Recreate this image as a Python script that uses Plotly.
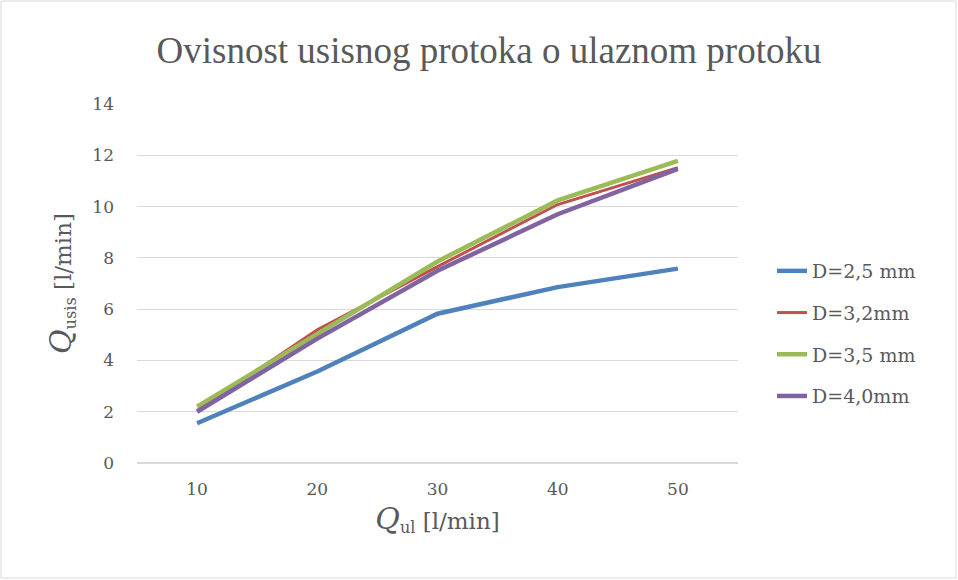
import plotly.graph_objects as go

categories = ["10", "20", "30", "40", "50"]
d25 = [1.55, 3.57, 5.82, 6.86, 7.58]
d32 = [2.05, 5.19, 7.66, 10.08, 11.52]
d35 = [2.2, 5.05, 7.86, 10.24, 11.78]
d40 = [2.0, 4.85, 7.5, 9.7, 11.47]
series_names = ["D=2,5 mm", "D=3,2mm", "D=3,5 mm", "D=4,0mm"]
colors = ["#4F81BD", "#C0504D", "#9BBB59", "#8064A2"]
widths = [4.5, 3, 4.5, 4.5]

W, H = 958, 580
L, R, T, B = 137, 220, 104, 117
pw, ph = W - L - R, H - T - B
TXT = "#595959"

fig = go.Figure()
for i, (name, vals) in enumerate(zip(series_names, [d25, d32, d35, d40])):
    fig.add_trace(go.Scatter(
        x=categories, y=vals, name=name, mode="lines",
        line=dict(color=colors[i], width=widths[i]),
        legendgroup=f"g{i}",
    ))

# outer chart border
fig.add_shape(type="rect", xref="paper", yref="paper",
              x0=(1 - L) / pw, x1=(W - 2 - L) / pw,
              y0=-(B - 2) / ph, y1=1 + (T - 1) / ph,
              line=dict(color="#D9D9D9", width=1), layer="below")

fig.update_layout(
    width=W, height=H,
    margin=dict(l=L, r=R, t=T, b=B),
    paper_bgcolor="white", plot_bgcolor="white",
    title=dict(text="Ovisnost usisnog protoka o ulaznom protoku",
               x=489 / W, xref="container", xanchor="center",
               y=1 - 50 / H, yref="container", yanchor="middle",
               font=dict(family="Liberation Serif", size=37, color=TXT)),
    font=dict(family="DejaVu Serif", color=TXT),
    xaxis=dict(type="category", range=[-0.5, 4.5], showgrid=False,
               showline=False, zeroline=False, ticks="", ticklabelstandoff=14,
               tickfont=dict(family="DejaVu Serif", size=17, color=TXT),
               title=dict(text="<i><span style='font-size:30px'>Q</span></i><sub>ul</sub> [l/min]",
                          standoff=14,
                          font=dict(family="DejaVu Serif", size=23, color=TXT))),
    yaxis=dict(range=[0, 14], dtick=2, showgrid=True, gridcolor="#D9D9D9",
               gridwidth=1, zeroline=True, zerolinecolor="#D9D9D9",
               showline=False, ticks="", ticklabelstandoff=22,
               tickfont=dict(family="DejaVu Serif", size=17, color=TXT),
               title=dict(text="<i><span style='font-size:30px'>Q</span></i><sub>usis</sub> [l/min]",
                          standoff=14,
                          font=dict(family="DejaVu Serif", size=23, color=TXT))),
    legend=dict(x=1 + 34 / pw, xanchor="left", y=(463 - 252) / ph, yanchor="top",
                traceorder="grouped", tracegroupgap=14,
                font=dict(family="DejaVu Serif", size=19, color=TXT),
                bgcolor="rgba(0,0,0,0)"),
)

fig.write_html("out.html", config={"displayModeBar": False},
               post_script="document.body.style.margin='0';")
